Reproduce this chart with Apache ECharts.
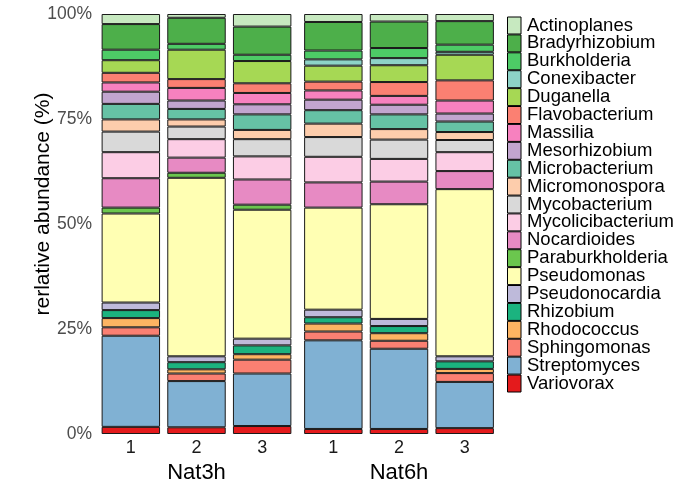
<!DOCTYPE html>
<html>
<head>
<meta charset="utf-8">
<script src="https://cdn.jsdelivr.net/npm/echarts@6/dist/echarts.min.js"></script>
<style>
  html, body { margin: 0; padding: 0; background: #fff; }
  #chart { width: 680px; height: 500px; }
</style>
</head>
<body>
<div id="chart"></div>
<script>
// genus names (legend order, top to bottom)
var genera = ['Actinoplanes', 'Bradyrhizobium', 'Burkholderia', 'Conexibacter', 'Duganella',
	'Flavobacterium', 'Massilia', 'Mesorhizobium', 'Microbacterium', 'Micromonospora',
	'Mycobacterium', 'Mycolicibacterium', 'Nocardioides', 'Paraburkholderia', 'Pseudomonas',
	'Pseudonocardia', 'Rhizobium', 'Rhodococcus', 'Sphingomonas', 'Streptomyces', 'Variovorax'];

var replicates = ['1', '2', '3'];
var groups = ['Nat3h', 'Nat6h'];
var yTicks = [0, 25, 50, 75, 100];

// relative abundance (%) per sample, in the order of genera
var nat3h_1 = [2.4, 6.1, 2.5, 0, 3.0, 2.3, 2.2, 2.9, 3.7, 2.9, 4.9, 6.2, 7.0, 1.4, 21.2, 1.8, 1.9, 2.2, 2.0, 21.7, 1.7];
var nat3h_2 = [0.9, 6.2, 1.4, 0, 7.0, 2.1, 3.0, 2.0, 2.5, 1.7, 3.0, 4.4, 3.6, 1.2, 42.5, 1.4, 1.7, 1.0, 1.8, 11.0, 1.6];
var nat3h_3 = [3.0, 6.7, 1.5, 0, 5.3, 2.3, 2.7, 2.4, 3.7, 2.2, 4.1, 5.5, 6.0, 1.2, 30.7, 1.6, 2.1, 1.3, 3.3, 12.5, 1.9];
var nat6h_1 = [1.9, 6.8, 2.1, 1.5, 3.8, 2.1, 2.2, 2.5, 3.2, 3.2, 4.7, 6.1, 6.0, 0, 24.3, 1.8, 1.5, 1.9, 2.1, 21.1, 1.2];
var nat6h_2 = [1.8, 6.3, 2.4, 1.7, 4.0, 3.3, 2.1, 2.3, 3.5, 2.5, 4.6, 5.4, 5.4, 0, 27.3, 1.7, 1.7, 1.8, 1.9, 19.1, 1.2];
var nat6h_3 = [1.7, 5.6, 1.7, 0.7, 6.1, 4.8, 3.1, 1.9, 2.5, 1.9, 2.9, 4.5, 4.3, 0, 39.8, 1.2, 1.8, 1.0, 2.1, 11.0, 1.4];

var palette = ['#c7e9c0', '#4daf4a', '#4dcb66', '#8dd3c7', '#a6d854',
	'#fb8072', '#f781bf', '#c2a5cf', '#66c2a5', '#fdcdac',
	'#d9d9d9', '#fccde5', '#e78ac3', '#6bc64e', '#ffffb3',
	'#bebada', '#1bb37f', '#fdb462', '#fa8072', '#80b1d3', '#e41a1c'];

var samples = [[nat3h_1, nat3h_2, nat3h_3], [nat6h_1, nat6h_2, nat6h_3]];

var chart = echarts.init(document.getElementById('chart'));
var font = 'Liberation Sans, Arial, sans-serif';

var grids = [], xAxes = [], yAxes = [], series = [];
var panelLeft = [98, 300.5];

groups.forEach(function (g, gi) {
	grids.push({ left: panelLeft[gi], top: 14, width: 197, height: 420 });
	xAxes.push({
		type: 'category', gridIndex: gi, data: replicates,
		name: g, nameLocation: 'middle', nameGap: 26,
		nameTextStyle: { fontFamily: font, fontSize: 22, color: '#000' },
		axisLine: { show: false }, axisTick: { show: false },
		axisLabel: { fontFamily: font, fontSize: 18, color: '#1a1a1a', margin: 5 }
	});
	yAxes.push({
		type: 'value', gridIndex: gi, min: 0, max: 100, interval: 25,
		axisLine: { show: false }, axisTick: { show: false }, splitLine: { show: false },
		axisLabel: {
			show: gi === 0, fontFamily: font, fontSize: 17.5, color: '#4d4d4d', margin: 6,
			formatter: function (v) { return yTicks.indexOf(v) >= 0 ? v + '%' : ''; }
		}
	});
	// stack from bottom (Variovorax) to top (Actinoplanes)
	for (var k = genera.length - 1; k >= 0; k--) {
		series.push({
			name: genera[k], type: 'bar', stack: 'g' + gi,
			xAxisIndex: gi, yAxisIndex: gi,
			barCategoryGap: '11%',
			itemStyle: { color: palette[k], borderColor: '#1a1a1a', borderWidth: 1 },
			emphasis: { disabled: true },
			data: samples[gi].map(function (s) { return s[k] || '-'; })
		});
	}
});

var option = {
	animation: false,
	textStyle: { fontFamily: font },
	grid: grids,
	xAxis: xAxes,
	yAxis: yAxes,
	graphic: [{
		type: 'text', x: 43, y: 204, rotation: Math.PI / 2,
		style: {
			text: 'rerlative abundance (%)', fontFamily: font, fontSize: 21,
			fill: '#000', textAlign: 'center', textVerticalAlign: 'middle'
		}
	}],
	legend: {
		orient: 'vertical', left: 507, top: 16, padding: 0,
		itemWidth: 13.5, itemHeight: 17, itemGap: -1.1,
		icon: 'rect',
		itemStyle: { borderColor: '#000', borderWidth: 1 },
		textStyle: { fontFamily: font, fontSize: 18.5, color: '#000', padding: [0, 0, 0, 1] },
		data: genera,
		selectedMode: false
	},
	series: series
};

chart.setOption(option);
</script>
</body>
</html>
